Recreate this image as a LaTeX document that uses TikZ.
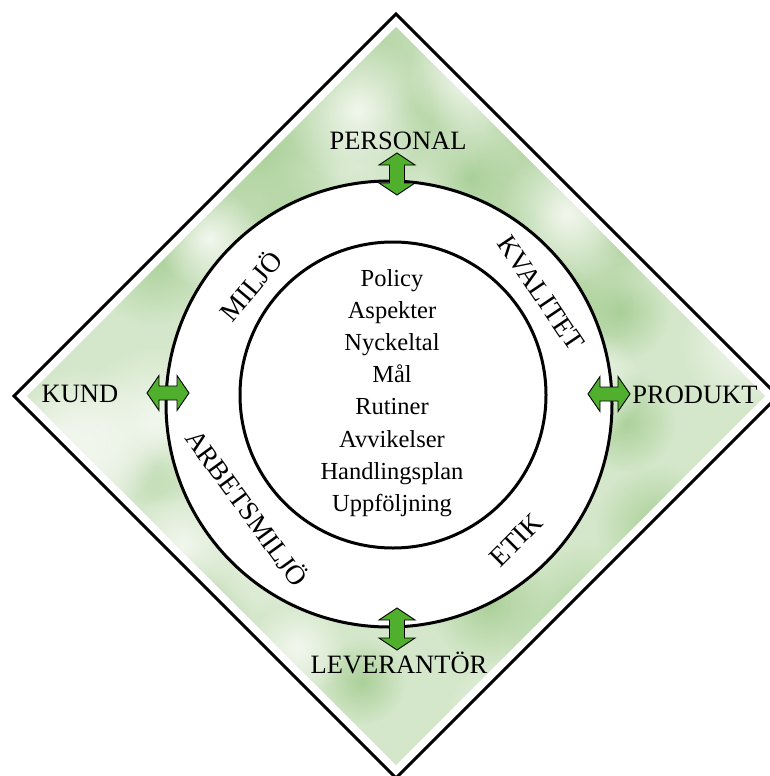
\documentclass[tikz,border=0pt]{standalone}
\usepackage{fontspec}
\setmainfont{Liberation Serif}
\usetikzlibrary{fadings}
\definecolor{basegreen}{RGB}{212,231,202}
\definecolor{darkgreen}{RGB}{170,208,152}
\definecolor{lightgreen}{RGB}{242,247,238}
\definecolor{arrowgreen}{RGB}{80,176,46}
\tikzfading[name=blobfade, inner color=transparent!0, outer color=transparent!100]
\tikzset{
  lbl/.style={font=\fontsize{26.5}{30}\selectfont, inner sep=0pt},
  rlbl/.style={font=\fontsize{27.5}{30}\selectfont, inner sep=0pt},
  item/.style={font=\fontsize{24.5}{28}\selectfont, inner sep=0pt, anchor=base},
  ring/.style={draw=black, line width=3pt, fill=white},
  dblarrow/.style={draw=black, line width=0.9pt, fill=arrowgreen, line join=miter},
  harrow/.pic={\path[dblarrow] (-21,0) -- (-9,-17.5) -- (-9,-7) -- (9,-7) -- (9,-17.5) -- (21,0)
     -- (9,17.5) -- (9,7) -- (-9,7) -- (-9,17.5) -- cycle;},
  varrow/.pic={\path[dblarrow] (0,-21) -- (-18,-9) -- (-7.5,-9) -- (-7.5,9) -- (-18,9) -- (0,21)
     -- (18,9) -- (7.5,9) -- (7.5,-9) -- (18,-9) -- cycle;}
}
\begin{document}
\begin{tikzpicture}[x=1pt,y=-1pt]
\useasboundingbox (0,0) rectangle (770,776);
% green mottled field
\begin{scope}
  \clip (396,27) -- (765,396) -- (396,765) -- (27,396) -- cycle;
  \fill[basegreen] (0,0) rectangle (770,776);
  \pgfmathsetseed{11}
  \foreach \i in {1,...,40}{
    \fill[darkgreen, path fading=blobfade] ({770*rnd},{776*rnd}) circle ({40+50*rnd});
  }
  \foreach \i in {1,...,32}{
    \fill[lightgreen, path fading=blobfade] ({770*rnd},{776*rnd}) circle ({35+45*rnd});
  }
\end{scope}
% diamond outline
\draw[line width=3pt, line join=miter] (396,14) -- (778,396) -- (396,778) -- (14,396) -- cycle;
% rings
\node[ring, circle, minimum size=446pt, inner sep=0pt] (outer) at (389,404) {};
\node[ring, circle, minimum size=306pt, inner sep=0pt] (inner) at (393,395) {};
% arrows
\pic (aTop) at (397,174) {varrow};
\pic (aBot) at (397,629) {varrow};
\pic (aLeft) at (168,393) {harrow};
\pic (aRight) at (609,394) {harrow};
% outer labels
\node[lbl, anchor=base] (personal) at (398,149) {PERSONAL};
\node[lbl, anchor=base] (leverantor) at (399,673) {LEVERANTÖR};
\node[lbl, anchor=base] (kund) at (80,402) {KUND};
\node[lbl, anchor=base] (produkt) at (695,403) {PRODUKT};
% ring labels
\node[rlbl, rotate=50] (miljo) at (250,285) {MILJÖ};
\node[rlbl, rotate=-54] (arbetsmiljo) at (248,507) {ARBETSMILJÖ};
\node[rlbl, rotate=-56] (kvalitet) at (541,293) {KVALITET};
\node[rlbl, rotate=45] (etik) at (516,540) {ETIK};
% inner list
\node[item] (i1) at (392,286) {Policy};
\node[item] (i2) at (392,318.2) {Aspekter};
\node[item] (i3) at (392,350.4) {Nyckeltal};
\node[item] (i4) at (392,382.6) {Mål};
\node[item] (i5) at (392,414.8) {Rutiner};
\node[item] (i6) at (392,447) {Avvikelser};
\node[item] (i7) at (392,479.2) {Handlingsplan};
\node[item] (i8) at (392,511.4) {Uppföljning};
\end{tikzpicture}
\end{document}
